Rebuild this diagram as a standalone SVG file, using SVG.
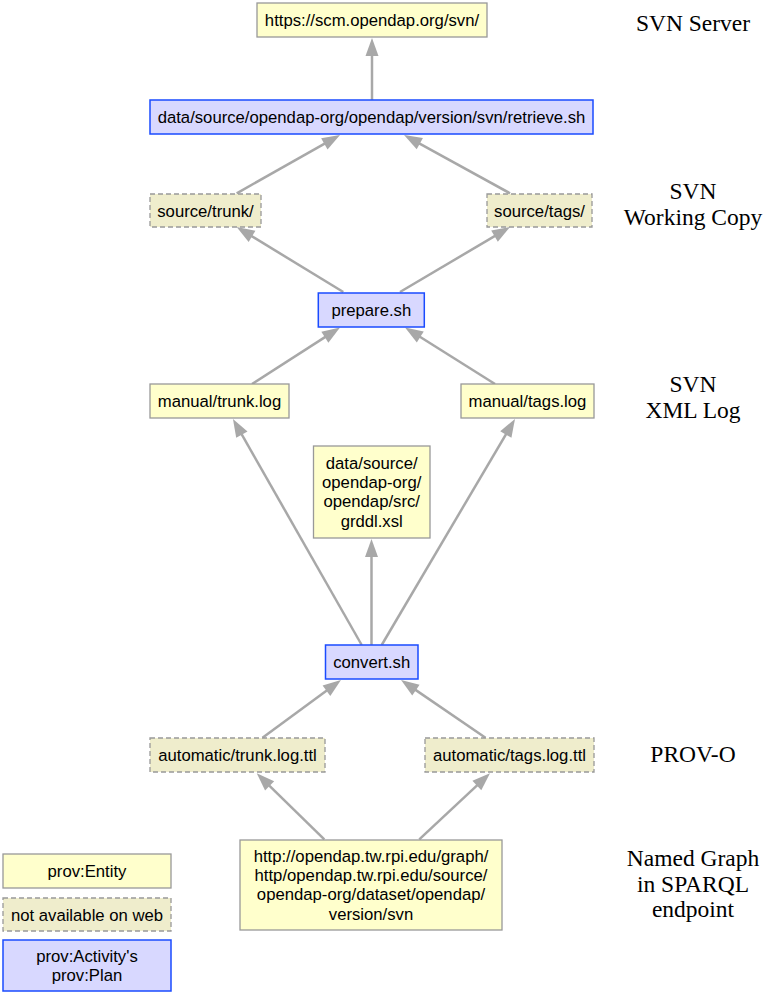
<svg xmlns="http://www.w3.org/2000/svg" width="768" height="993" viewBox="0 0 768 993">
<style>
.ent{fill:#ffffcc;stroke:#999999;stroke-width:1.3}
.na{fill:#efedcc;stroke:#999999;stroke-width:1.3;stroke-dasharray:5,3}
.act{fill:#d8d8ff;stroke:#1a4bff;stroke-width:1.5}
.t{font-family:"Liberation Sans",Arial,sans-serif;font-size:16.7px;fill:#000;text-anchor:middle}
.lab{font-family:"Liberation Serif","Times New Roman",serif;font-size:23.5px;fill:#000;text-anchor:middle}
.e{stroke:#a8a8a8;stroke-width:2.5;fill:none;marker-end:url(#ah)}
</style>
<defs>
<marker id="ah" markerUnits="userSpaceOnUse" markerWidth="18" markerHeight="13" refX="8" refY="6.5" orient="auto" overflow="visible">
<path d="M0,0 L18,6.5 L0,13 Z" fill="#a8a8a8"/>
</marker>
</defs>
<rect width="768" height="993" fill="#ffffff"/>
<g id="connectors">
<line class="e" x1="372" y1="100" x2="372" y2="48"/>
<line class="e" x1="236.7" y1="193.3" x2="331.3" y2="139.9"/>
<line class="e" x1="510" y1="193.3" x2="412.8" y2="139.8"/>
<line class="e" x1="343.3" y1="292" x2="245.2" y2="232.2"/>
<line class="e" x1="400" y1="292" x2="501.4" y2="232.1"/>
<line class="e" x1="252" y1="384" x2="331.6" y2="332.9"/>
<line class="e" x1="495" y1="384" x2="413.5" y2="332.8"/>
<line class="e" x1="361.7" y1="645" x2="237.9" y2="427.7"/>
<line class="e" x1="371.5" y1="645" x2="371.5" y2="549"/>
<line class="e" x1="381.7" y1="645" x2="509.9" y2="427.6"/>
<line class="e" x1="262.5" y1="737.7" x2="332.9" y2="685.9"/>
<line class="e" x1="485.5" y1="737.7" x2="409.3" y2="685.6"/>
<line class="e" x1="324.3" y1="839.3" x2="263.9" y2="780.3"/>
<line class="e" x1="419.3" y1="839.3" x2="482.7" y2="780.1"/>
</g>
<g id="svn-server">
<rect class="ent" x="257" y="3" width="230" height="34"/>
<text class="t" x="372" y="26">https://scm.opendap.org/svn/</text>
</g>
<g id="retrieve">
<rect class="act" x="150" y="100" width="443" height="34"/>
<text class="t" x="371.5" y="123">data/source/opendap-org/opendap/version/svn/retrieve.sh</text>
</g>
<g id="source-trunk">
<rect class="na" x="150" y="194" width="111" height="33"/>
<text class="t" x="205.5" y="216.5">source/trunk/</text>
</g>
<g id="source-tags">
<rect class="na" x="487" y="194" width="105" height="33"/>
<text class="t" x="539.5" y="216.5">source/tags/</text>
</g>
<g id="prepare">
<rect class="act" x="318.3" y="293" width="106" height="34"/>
<text class="t" x="371.3" y="316">prepare.sh</text>
</g>
<g id="manual-trunk">
<rect class="ent" x="150" y="384" width="139" height="34"/>
<text class="t" x="219.5" y="407">manual/trunk.log</text>
</g>
<g id="manual-tags">
<rect class="ent" x="461" y="384" width="133" height="34"/>
<text class="t" x="527.5" y="407">manual/tags.log</text>
</g>
<g id="grddl">
<rect class="ent" x="313.5" y="446" width="116.5" height="92"/>
<text class="t" x="371.7" y="469">data/source/</text>
<text class="t" x="371.7" y="488.2">opendap-org/</text>
<text class="t" x="371.7" y="507.4">opendap/src/</text>
<text class="t" x="371.7" y="526.6">grddl.xsl</text>
</g>
<g id="convert">
<rect class="act" x="325.5" y="645" width="92.5" height="34"/>
<text class="t" x="371.7" y="668">convert.sh</text>
</g>
<g id="auto-trunk">
<rect class="na" x="150" y="738" width="175" height="34"/>
<text class="t" x="237.5" y="761">automatic/trunk.log.ttl</text>
</g>
<g id="auto-tags">
<rect class="na" x="425" y="738" width="169" height="34"/>
<text class="t" x="509.5" y="761">automatic/tags.log.ttl</text>
</g>
<g id="named-graph">
<rect class="ent" x="240" y="840" width="262" height="90"/>
<text class="t" x="371" y="862">http://opendap.tw.rpi.edu/graph/</text>
<text class="t" x="371" y="881.2">http/opendap.tw.rpi.edu/source/</text>
<text class="t" x="371" y="900.4">opendap-org/dataset/opendap/</text>
<text class="t" x="371" y="919.6">version/svn</text>
</g>
<g id="legend-entity">
<rect class="ent" x="3" y="854" width="168" height="34"/>
<text class="t" x="87" y="877">prov:Entity</text>
</g>
<g id="legend-na">
<rect class="na" x="3" y="898" width="168" height="33"/>
<text class="t" x="87" y="920.5">not available on web</text>
</g>
<g id="legend-activity">
<rect class="act" x="3" y="940" width="168" height="51"/>
<text class="t" x="87" y="962">prov:Activity's</text>
<text class="t" x="87" y="981.2">prov:Plan</text>
</g>
<g id="labels">
<text class="lab" x="693" y="31">SVN Server</text>
<text class="lab" x="693" y="199">SVN</text>
<text class="lab" x="693" y="225">Working Copy</text>
<text class="lab" x="693" y="392">SVN</text>
<text class="lab" x="693" y="418">XML Log</text>
<text class="lab" x="693" y="762">PROV-O</text>
<text class="lab" x="693" y="866">Named Graph</text>
<text class="lab" x="693" y="892">in SPARQL</text>
<text class="lab" x="693" y="917">endpoint</text>
</g>
</svg>
